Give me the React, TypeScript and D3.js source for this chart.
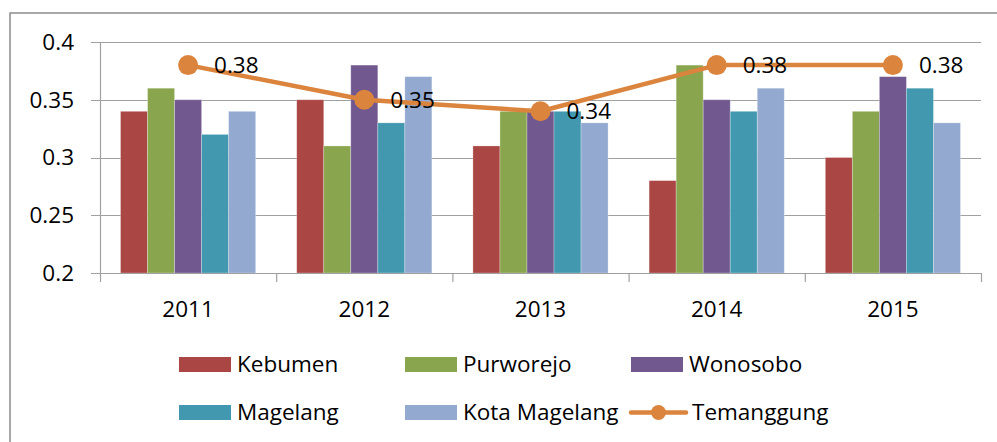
import React from "react";
import * as d3 from "d3";

const years = ["2011", "2012", "2013", "2014", "2015"];
const kebumen = [0.34, 0.35, 0.31, 0.28, 0.30];
const purworejo = [0.36, 0.31, 0.34, 0.38, 0.34];
const wonosobo = [0.35, 0.38, 0.34, 0.35, 0.37];
const magelang = [0.32, 0.33, 0.34, 0.34, 0.36];
const kotaMagelang = [0.34, 0.37, 0.33, 0.36, 0.33];
const temanggung = [0.38, 0.35, 0.34, 0.38, 0.38];
const yTicks = [0.2, 0.25, 0.3, 0.35, 0.4];

const barSeries = [
  { name: "Kebumen", values: kebumen, color: "#AA4643" },
  { name: "Purworejo", values: purworejo, color: "#89A54E" },
  { name: "Wonosobo", values: wonosobo, color: "#71588F" },
  { name: "Magelang", values: magelang, color: "#4198AF" },
  { name: "Kota Magelang", values: kotaMagelang, color: "#93A9CF" },
];
const lineColor = "#DB843D";

const W = 997, H = 442;
const plot = { left: 100, right: 981, top: 42, bottom: 273 };
const font = "'Open Sans', 'Noto Sans', sans-serif";
const fs = 22.5;

export default function App() {
  const x = d3.scaleBand().domain(years).range([plot.left, plot.right]).paddingInner(0).paddingOuter(0);
  const bw = x.bandwidth();
  const groupW = bw * (135 / 176);
  const barW = groupW / barSeries.length;
  const y = d3.scaleLinear().domain([0.2, 0.4]).range([plot.bottom, plot.top]);
  const cx = (yr: string) => (x(yr) as number) + bw / 2;
  const line = d3.line<number>().x((_, i) => cx(years[i])).y((v) => y(v));

  const legendItems = [
    { name: "Kebumen", color: barSeries[0].color, col: 0, row: 0, type: "bar" },
    { name: "Purworejo", color: barSeries[1].color, col: 1, row: 0, type: "bar" },
    { name: "Wonosobo", color: barSeries[2].color, col: 2, row: 0, type: "bar" },
    { name: "Magelang", color: barSeries[3].color, col: 0, row: 1, type: "bar" },
    { name: "Kota Magelang", color: barSeries[4].color, col: 1, row: 1, type: "bar" },
    { name: "Temanggung", color: lineColor, col: 2, row: 1, type: "line" },
  ];
  const legX = [179, 405, 631];
  const legY = [364.5, 412.5];

  return (
    <svg width={W} height={H} style={{ position: "absolute", left: 0, top: 0, background: "#fff" }} fontFamily={font}>
      <rect x={10} y={13} width={1000} height={460} fill="#fff" stroke="#8c8c8c" strokeWidth={1.5} />
      {/* gridlines */}
      {yTicks.map((t) => (
        <line key={t} x1={plot.left - 9} x2={plot.right} y1={Math.round(y(t)) + 0.5} y2={Math.round(y(t)) + 0.5} stroke="#a0a0a0" strokeWidth={1.2} />
      ))}
      {/* y axis */}
      <line x1={plot.left + 0.5} x2={plot.left + 0.5} y1={plot.top} y2={plot.bottom} stroke="#a0a0a0" strokeWidth={1.2} />
      {yTicks.map((t) => (
        <text key={"yl" + t} x={74} y={y(t)} dy="0.35em" textAnchor="end" fontSize={fs} fill="#000">
          {String(t)}
        </text>
      ))}
      {/* bars */}
      {barSeries.map((s, si) =>
        s.values.map((v, i) => {
          const x0 = cx(years[i]) - groupW / 2 + si * barW;
          return (
            <rect key={s.name + i} x={x0} y={y(v)} width={barW} height={plot.bottom - y(v)} fill={s.color} stroke="#ffffff" strokeOpacity={0.35} strokeWidth={0.8} />
          );
        })
      )}
      {/* x axis */}
      <line x1={plot.left} x2={plot.right} y1={plot.bottom + 0.5} y2={plot.bottom + 0.5} stroke="#a0a0a0" strokeWidth={1.2} />
      {[...years.map((yr) => x(yr) as number), plot.right].map((px, i) => (
        <line key={"xt" + i} x1={px + 0.5} x2={px + 0.5} y1={plot.bottom} y2={plot.bottom + 9} stroke="#a0a0a0" strokeWidth={1.2} />
      ))}
      {years.map((yr) => (
        <text key={"xl" + yr} x={cx(yr)} y={316.5} textAnchor="middle" fontSize={fs} fill="#000">
          {yr}
        </text>
      ))}
      {/* line */}
      <path d={line(temanggung) || ""} fill="none" stroke={lineColor} strokeWidth={4.5} strokeLinejoin="round" />
      {temanggung.map((v, i) => (
        <circle key={"m" + i} cx={cx(years[i])} cy={y(v)} r={10} fill={lineColor} />
      ))}
      {temanggung.map((v, i) => (
        <text key={"dl" + i} x={cx(years[i]) + 26} y={y(v)} dy="0.35em" fontSize={fs} fill="#000">
          {v.toFixed(2)}
        </text>
      ))}
      {/* legend */}
      {legendItems.map((it) => {
        const lx = legX[it.col];
        const ly = legY[it.row];
        return (
          <g key={"lg" + it.name}>
            {it.type === "bar" ? (
              <rect x={lx} y={ly - 7.5} width={52} height={15} fill={it.color} />
            ) : (
              <g>
                <line x1={lx} x2={lx + 55} y1={ly} y2={ly} stroke={it.color} strokeWidth={4.5} strokeLinecap="round" />
                <circle cx={lx + 27.5} cy={ly} r={7.5} fill={it.color} />
              </g>
            )}
            <text x={lx + (it.type === "bar" ? 58 : 61)} y={ly} dy="0.35em" fontSize={fs} fill="#000">
              {it.name}
            </text>
          </g>
        );
      })}
    </svg>
  );
}
